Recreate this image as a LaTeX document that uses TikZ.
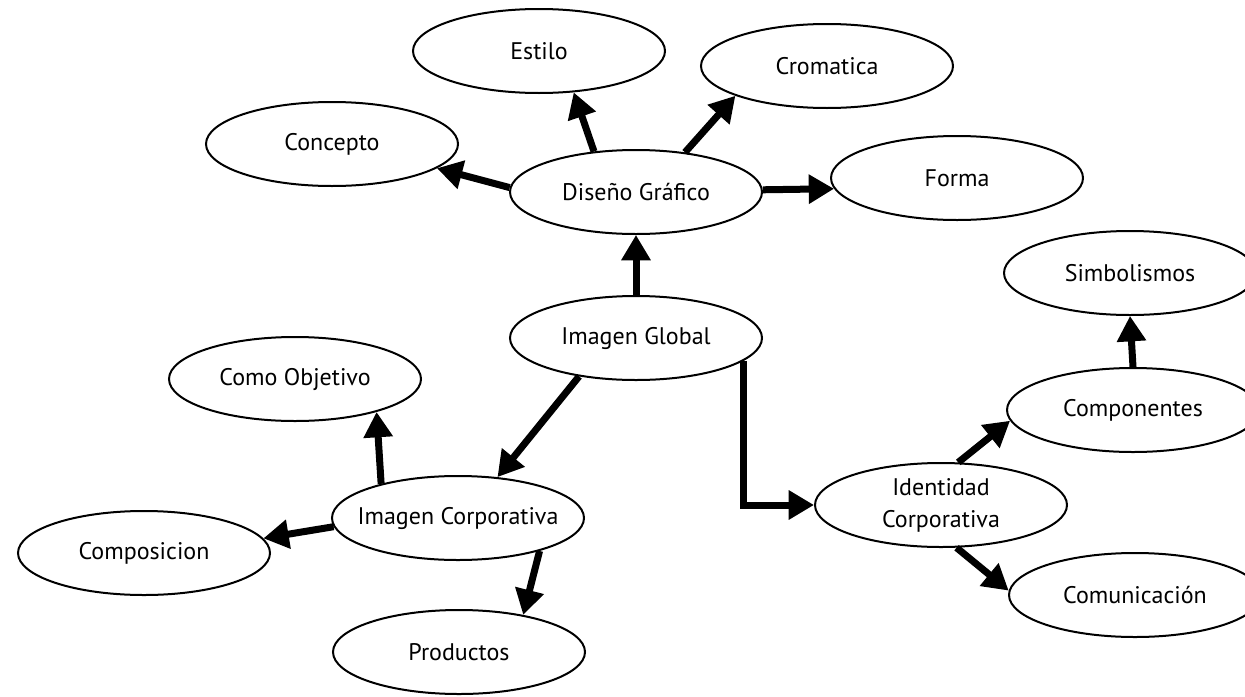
\documentclass[tikz,border=0pt]{standalone}
\usepackage{fontspec}
\setmainfont{PT Sans}
\usetikzlibrary{shapes.geometric,arrows.meta}

\begin{document}
\begin{tikzpicture}[x=0.75pt,y=0.75pt,yscale=-1,xscale=1,
  bubble/.style={draw, ellipse, line width=1.5pt, minimum width=189pt, minimum height=63pt,
    inner xsep=-50pt, inner ysep=-14pt, align=center, font=\fontsize{18pt}{24pt}\selectfont},
  link/.style={line width=5.25pt, -{Triangle[length=19pt,width=21pt]}}]
\useasboundingbox (0,0) rectangle (1245,696);

%Shape: Ellipse
\node [bubble] (dg) at (636,192) {Diseño Gráfico};
%Shape: Ellipse
\node [bubble] (es) at (539,51) {Estilo};
%Shape: Ellipse
\node [bubble] (cr) at (827,66) {Cromatica};
%Shape: Ellipse
\node [bubble] (co) at (332,144) {Concepto};
%Shape: Ellipse
\node [bubble] (fo) at (957,178) {Forma};
%Shape: Ellipse
\node [bubble] (ig) at (636,338) {Imagen Global};
%Shape: Ellipse
\node [bubble] (ic) at (458,518) {Imagen Corporativa};
%Shape: Ellipse
\node [bubble] (ob) at (295,379) {Como Objetivo};
%Shape: Ellipse
\node [bubble] (cp) at (144,553) {Composicion};
%Shape: Ellipse
\node [bubble] (pr) at (459,652) {Productos};
%Shape: Ellipse
\node [bubble] (id) at (941,505) {Identidad\\Corporativa};
%Shape: Ellipse
\node [bubble] (cm) at (1133,410) {Componentes};
%Shape: Ellipse
\node [bubble] (si) at (1130,273) {Simbolismos};
%Shape: Ellipse
\node [bubble] (cu) at (1135,595) {Comunicación};

%Straight Lines
\draw [link] (dg.136) -- (es.-50);
\draw [link] (dg.39) -- (cr.-162);
\draw [link] (dg.178) -- (co.-13);
\draw [link] (dg.1) -- (fo.185);
\draw [link] (ig.north) -- (dg.south);

%Straight Lines
\draw [link] (ig.-146) -- (ic.46);
\draw [link] (ic.156) -- (ob.-22);
\draw [link] (ic.184) -- (cp.7);
\draw [link] (ic.-22) -- (pr.30);

%Straight Lines
\draw [link] (ig.-12) |- (id.west);
\draw [link] (id.68) -- (cm.185);
\draw [link] (id.-70) -- (cu.178);
\draw [link] (cm.north) -- (si.south);

\end{tikzpicture}
\end{document}
